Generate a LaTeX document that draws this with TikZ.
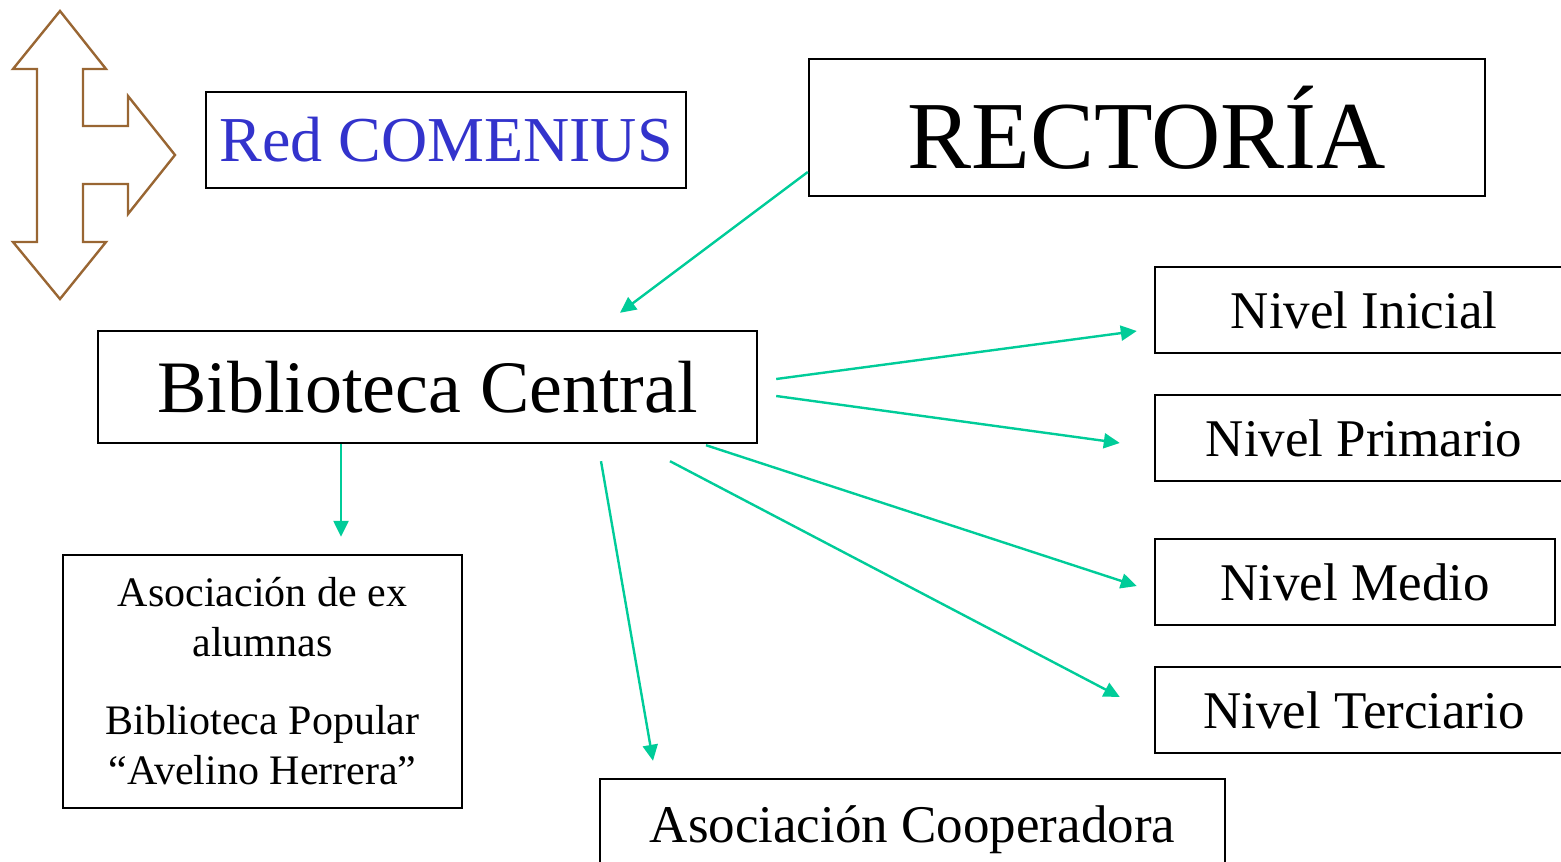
\documentclass[tikz,border=0pt]{standalone}
\usepackage{fontspec}
\setmainfont{Liberation Serif}
\usetikzlibrary{calc,arrows.meta}
\definecolor{linkgreen}{HTML}{00CC99}
\definecolor{arrowbrown}{HTML}{996633}
\definecolor{redblue}{HTML}{3333CC}

\begin{document}
\begin{tikzpicture}[x=0.5pt,y=-0.5pt,
	box/.style={draw,line width=1.2pt,inner sep=0pt,align=center},
	link/.style={draw=linkgreen,line width=1.2pt,-{Triangle[length=8pt,width=7.5pt]}}]
	\useasboundingbox (0,0) rectangle (1561,861);
	\clip (0,0) rectangle (1561,861);
	% three-way arrow
	\draw[arrowbrown,line width=1.2pt,line join=miter] (60,11) -- (106,69) -- (83,69) -- (83,126) -- (128,126) -- (128,96) -- (175,155) -- (128,214) -- (128,184) -- (83,184) -- (83,242) -- (106,242) -- (60,299) -- (13,242) -- (37,242) -- (37,69) -- (13,69) -- cycle;
	% boxes
	\node[box,minimum width=240pt,minimum height=48pt,text=redblue,font=\fontsize{32}{38}\selectfont] (red) at (446,140) {Red COMENIUS};
	\node[box,minimum width=338pt,minimum height=68.5pt,font=\fontsize{48}{56}\selectfont] (rect) at (1147,127.5) {RECTORÍA};
	\node[box,minimum width=329.5pt,minimum height=56pt,font=\fontsize{37}{44}\selectfont] (bib) at (427.5,387) {Biblioteca Central};
	\node[box,minimum width=209pt,minimum height=43pt,font=\fontsize{26.5}{32}\selectfont] (ini) at (1364,310) {Nivel Inicial};
	\node[box,minimum width=209pt,minimum height=43pt,font=\fontsize{26.5}{32}\selectfont] (pri) at (1364,438) {Nivel Primario};
	\node[box,minimum width=200pt,minimum height=43pt,font=\fontsize{26.5}{32}\selectfont] (med) at (1355,582) {Nivel Medio};
	\node[box,minimum width=209pt,minimum height=43pt,font=\fontsize{26.5}{32}\selectfont] (ter) at (1364,710) {Nivel Terciario};
	\node[box,minimum width=199.5pt,minimum height=126.5pt,font=\fontsize{21}{25}\selectfont] (alu) at (262.5,681.5) {Asociación de ex\\alumnas\\[14pt]Biblioteca Popular\\``Avelino Herrera''};
	\node[box,minimum width=312.5pt,minimum height=51pt,font=\fontsize{26.5}{32}\selectfont] (coop) at (912.5,830) {Asociación Cooperadora};
	% links
	\draw[link] ($(rect.west)+(0,44.5)$) -- ($(bib.north)+(192.5,-17)$);
	\draw[link] ($(bib.east)+(18,-8)$) -- ($(ini.west)+(-17,21)$);
	\draw[link] ($(bib.east)+(18,9)$) -- ($(pri.west)+(-34,5)$);
	\draw[link] ($(bib.south)+(278.5,1)$) -- ($(med.west)+(-17,4)$);
	\draw[link] ($(bib.south)+(242.5,17)$) -- ($(ter.west)+(-34,-13)$);
	\draw[link] ($(bib.south)+(173.5,17)$) -- ($(coop.north)+(-259.5,-17)$);
	\draw[link] ($(bib.south)+(-86.5,0)$) -- ($(alu.north)+(78.5,-17)$);
\end{tikzpicture}
\end{document}
